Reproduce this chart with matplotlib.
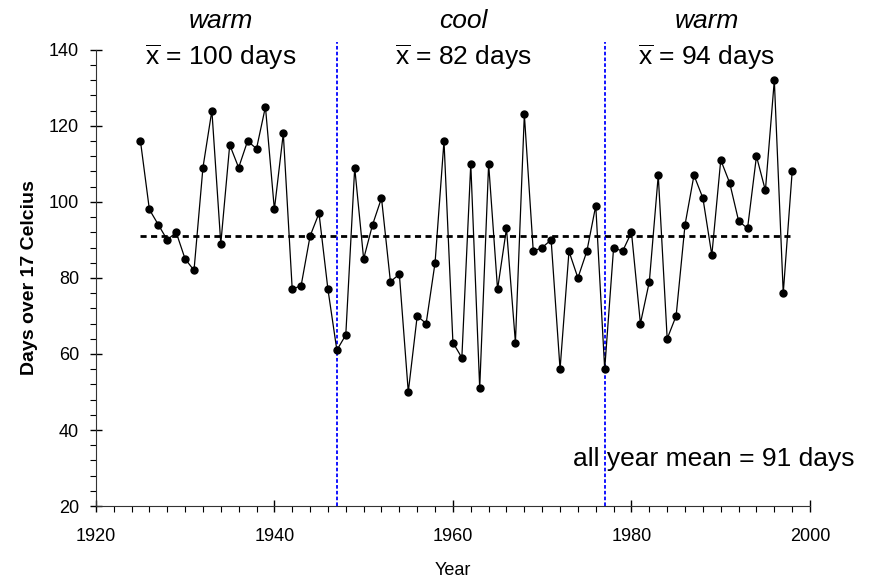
import numpy as np
import matplotlib.pyplot as plt
from matplotlib.ticker import MultipleLocator

plt.rcParams['font.family'] = ['Liberation Sans', 'DejaVu Sans']
plt.rcParams['mathtext.fontset'] = 'custom'
plt.rcParams['mathtext.rm'] = 'Liberation Sans'
plt.rcParams['mathtext.it'] = 'Liberation Sans:italic'

# Dati
years = np.arange(1925, 1999)
days = [116, 98, 94, 90, 92, 85, 82, 109, 124, 89,
        115, 109, 116, 114, 125, 98, 118, 77, 78, 91,
        97, 77, 61, 65, 109, 85, 94, 101, 79, 81,
        50, 70, 68, 84, 116, 63, 59, 110, 51, 110,
        77, 93, 63, 123, 87, 88, 90, 56, 87, 80,
        87, 99, 56, 88, 87, 92, 68, 79, 107, 64,
        70, 94, 107, 101, 86, 111, 105, 95, 93, 112,
        103, 132, 76, 108]
all_mean = 91
breaks = [1947, 1977]
period_names = ['warm', 'cool', 'warm']
period_means = [100, 82, 94]
period_centers = [1934, 1961.2, 1988.4]

fig = plt.figure(figsize=(8.71, 5.79), dpi=100)
ax = fig.add_axes([0.110, 0.126, 0.820, 0.788])

# linea della media
ax.plot([years[0], years[-1]], [all_mean, all_mean], color='black', lw=2,
        linestyle=(0, (2.2, 1.6)), zorder=1)

# serie
ax.plot(years, days, color='black', lw=0.9, marker='o', markersize=5, zorder=3)

# separatori dei periodi
for b in breaks:
    ax.plot([b, b], [20, 142], color='blue', lw=1.3, linestyle=(0, (2, 1.2)),
            clip_on=False, zorder=2)

for name, m, c in zip(period_names, period_means, period_centers):
    ax.text(c, 145.8, name, ha='center', va='baseline', fontsize=19, style='italic')
    ax.text(c, 136.0, r'$\overline{\mathrm{x}}$' + f' = {m} days', ha='center',
            va='baseline', fontsize=19)

ax.text(2005, 30.5, f'all year mean = {all_mean} days', ha='right', va='baseline',
        fontsize=19)

ax.set_xlim(1920, 2000)
ax.set_ylim(20, 140)
ax.xaxis.set_major_locator(MultipleLocator(20))
ax.xaxis.set_minor_locator(MultipleLocator(2))
ax.yaxis.set_major_locator(MultipleLocator(20))
ax.yaxis.set_minor_locator(MultipleLocator(4))
ax.tick_params(which='major', direction='inout', length=8, width=1, labelsize=13)
ax.tick_params(axis='x', which='major', pad=12)
ax.tick_params(axis='y', which='major', pad=8)
ax.tick_params(which='minor', direction='out', length=4, width=0.8)
for s in ['left', 'bottom']:
    ax.spines[s].set_color('#333333')

ax.spines['top'].set_visible(False)
ax.spines['right'].set_visible(False)

ax.set_xlabel('Year', fontsize=13, labelpad=12)
ax.set_ylabel('Days over 17 Celcius', fontsize=14, fontweight='bold', labelpad=8)

fig.savefig('out.png', dpi=100)
